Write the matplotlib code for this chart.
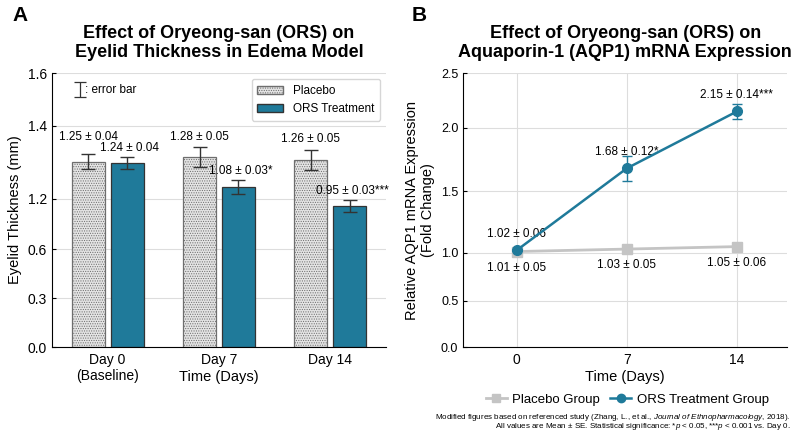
import matplotlib.pyplot as plt
import matplotlib.patches as mpatches
from matplotlib.lines import Line2D
import numpy as np

plt.rcParams['font.family'] = ['Liberation Sans', 'DejaVu Sans']
plt.rcParams['mathtext.fontset'] = 'custom'
plt.rcParams['mathtext.rm'] = 'Liberation Sans'
plt.rcParams['mathtext.it'] = 'Liberation Sans:italic'
plt.rcParams['hatch.color'] = '#b5b5b5'
plt.rcParams['hatch.linewidth'] = 0.5

# panel A data
days_a = ['Day 0\n(Baseline)', 'Day 7', 'Day 14']
placebo_mean = [1.25, 1.28, 1.26]
placebo_se = [0.04, 0.05, 0.05]
placebo_err_drawn = [0.049, 0.065, 0.07]
ors_mean = [1.24, 1.08, 0.95]
ors_se = [0.04, 0.03, 0.03]
ors_err_drawn = [0.04, 0.046, 0.039]
ors_sig = ['', '*', '***']
a_tick_pos = [0.0, 0.33, 0.66, 1.0, 1.49, 1.845]
a_tick_lab = ['0.0', '0.3', '0.6', '1.2', '1.4', '1.6']

# panel B data
days_b = [0, 7, 14]
aqp_placebo = [1.01, 1.03, 1.05]
aqp_placebo_se = [0.05, 0.05, 0.06]
aqp_ors = [1.02, 1.68, 2.15]
aqp_ors_se = [0.06, 0.12, 0.14]
aqp_ors_err_drawn = [0.0, 0.1, 0.066]
aqp_sig = ['', '*', '***']
b_ticks = [0.0, 0.5, 1.0, 1.5, 2.0, 2.5]
b_tick_px = [0.0, 46.3, 94.3, 156.0, 219.3, 274.0]

teal = '#1f7a9a'
gray_line = '#c4c4c4'

fig = plt.figure(figsize=(8, 4.36), dpi=100)
ax1 = fig.add_axes([0.065, 0.2041, 0.4175, 0.628])
ax2 = fig.add_axes([0.579, 0.2041, 0.405, 0.628])

# ---- panel A
x = np.arange(len(days_a))
off = 0.175
w = 0.295
ax1.bar(x - off, placebo_mean, w, color='#e4e4e4', edgecolor='#6e6e6e', linewidth=0.9,
        hatch='.......', zorder=2)
ax1.bar(x + off, ors_mean, w, color=teal, edgecolor='#333333', linewidth=0.9, zorder=2)
ax1.errorbar(x - off, placebo_mean, yerr=placebo_err_drawn, fmt='none', ecolor='#333333',
             elinewidth=1, capsize=5, capthick=1, zorder=3)
ax1.errorbar(x + off, ors_mean, yerr=ors_err_drawn, fmt='none', ecolor='#333333',
             elinewidth=1, capsize=5, capthick=1, zorder=3)
pl_pad = [0.115, 0.07, 0.07]
for i in range(len(x)):
    ax1.text(x[i] - off, placebo_mean[i] + placebo_err_drawn[i] + pl_pad[i],
             f'{placebo_mean[i]:.2f} ± {placebo_se[i]:.2f}', ha='center', va='center', fontsize=8.5)
    ax1.text(x[i] + off + 0.02, ors_mean[i] + ors_err_drawn[i] + 0.06,
             f'{ors_mean[i]:.2f} ± {ors_se[i]:.2f}{ors_sig[i]}', ha='center', va='center', fontsize=8.5)

ax1.set_xlim(-0.5, 2.5)
ax1.set_ylim(0, 1.845)
ax1.set_yticks(a_tick_pos)
ax1.set_yticklabels(a_tick_lab)
ax1.set_xticks(x)
ax1.set_xticklabels(days_a, fontsize=10)
ax1.tick_params(axis='y', labelsize=10, direction='in', length=3)
ax1.tick_params(axis='x', length=0, pad=4)
ax1.yaxis.grid(True, color='#dddddd', linewidth=0.8)
ax1.set_axisbelow(True)
for s in ['top', 'right']:
    ax1.spines[s].set_visible(False)
ax1.set_ylabel('Eyelid Thickness (mm)', fontsize=10.5, labelpad=4)
ax1.set_xlabel('Time (Days)', fontsize=10.5)
ax1.xaxis.set_label_coords(0.5, -0.085)
ax1.set_title('Effect of Oryeong-san (ORS) on\nEyelid Thickness in Edema Model',
              fontsize=13, fontweight='bold', pad=12, linespacing=1.15)

handles = [mpatches.Patch(facecolor='#e4e4e4', edgecolor='#6e6e6e', hatch='.......', label='Placebo'),
           mpatches.Patch(facecolor=teal, edgecolor='#333333', label='ORS Treatment')]
ax1.legend(handles=handles, loc='upper right', fontsize=8.5, frameon=True, edgecolor='#cccccc',
           fancybox=True, borderpad=0.5, handlelength=2.2, bbox_to_anchor=(1.0, 1.0))

# error bar key
ax1.errorbar([0.085], [0.94], yerr=[[0.028], [0.028]], transform=ax1.transAxes, fmt='none',
             ecolor='#333333', elinewidth=0.9, capsize=4, capthick=0.9, clip_on=False)
ax1.text(0.1, 0.94, ': error bar', transform=ax1.transAxes, fontsize=8.5, va='center')

# ---- panel B
def fwd(v):
    return np.interp(v, b_ticks, b_tick_px)


def inv(p):
    return np.interp(p, b_tick_px, b_ticks)


ax2.set_yscale('function', functions=(fwd, inv))
ax2.plot(days_b, aqp_placebo, color=gray_line, marker='s', markersize=7, linewidth=2, zorder=3)
ax2.plot(days_b, aqp_ors, color=teal, marker='o', markersize=7, linewidth=1.8, zorder=4)
ax2.errorbar(days_b, aqp_ors, yerr=aqp_ors_err_drawn, fmt='none', ecolor=teal,
             elinewidth=1, capsize=3.5, capthick=1, zorder=4)
for i in range(len(days_b)):
    ax2.annotate(f'{aqp_ors[i]:.2f} ± {aqp_ors_se[i]:.2f}{aqp_sig[i]}', (days_b[i], aqp_ors[i]),
                 xytext=(0, 12), textcoords='offset points', ha='center', va='center', fontsize=8.5)
    ax2.annotate(f'{aqp_placebo[i]:.2f} ± {aqp_placebo_se[i]:.2f}', (days_b[i], aqp_placebo[i]),
                 xytext=(0, -11.5), textcoords='offset points', ha='center', va='center', fontsize=8.5)

ax2.set_xlim(-3.4, 17.2)
ax2.set_ylim(0, 2.5)
ax2.set_xticks(days_b)
ax2.set_yticks(b_ticks)
ax2.set_yticklabels([f'{t:.1f}' for t in b_ticks])
ax2.tick_params(axis='y', labelsize=9, direction='in', length=3)
ax2.tick_params(axis='x', labelsize=10, length=0, pad=4)
ax2.grid(True, color='#dddddd', linewidth=0.8)
ax2.set_axisbelow(True)
for s in ['top', 'right']:
    ax2.spines[s].set_visible(False)
ax2.set_ylabel('Relative AQP1 mRNA Expression\n(Fold Change)', fontsize=10.5, labelpad=4)
ax2.set_xlabel('Time (Days)', fontsize=10.5)
ax2.xaxis.set_label_coords(0.5, -0.085)
ax2.set_title('Effect of Oryeong-san (ORS) on\nAquaporin-1 (AQP1) mRNA Expression',
              fontsize=13, fontweight='bold', pad=12, linespacing=1.15)

lh = [Line2D([], [], color=gray_line, marker='s', markersize=6, linewidth=2, label='Placebo Group'),
      Line2D([], [], color=teal, marker='o', markersize=6, linewidth=1.8, label='ORS Treatment Group')]
fig.legend(handles=lh, loc='center', bbox_to_anchor=(0.784, 0.083), ncol=2, frameon=False,
           fontsize=9.5, handlelength=1.6, columnspacing=0.8, handletextpad=0.4)

fig.text(0.988, 0.043, 'Modified figures based on referenced study (Zhang, L., et al., '
         r'$\it{Journal\ of\ Ethnopharmacology}$, 2018).', ha='right', va='center', fontsize=5.8)
fig.text(0.988, 0.021, r'All values are Mean ± SE. Statistical significance: *$\it{p}$ < 0.05, '
         r'***$\it{p}$ < 0.001 vs. Day 0.', ha='right', va='center', fontsize=5.8)

fig.text(0.015, 0.965, 'A', fontsize=15, fontweight='bold', va='center')
fig.text(0.515, 0.965, 'B', fontsize=15, fontweight='bold', va='center')

fig.savefig('out.png', dpi=100)
